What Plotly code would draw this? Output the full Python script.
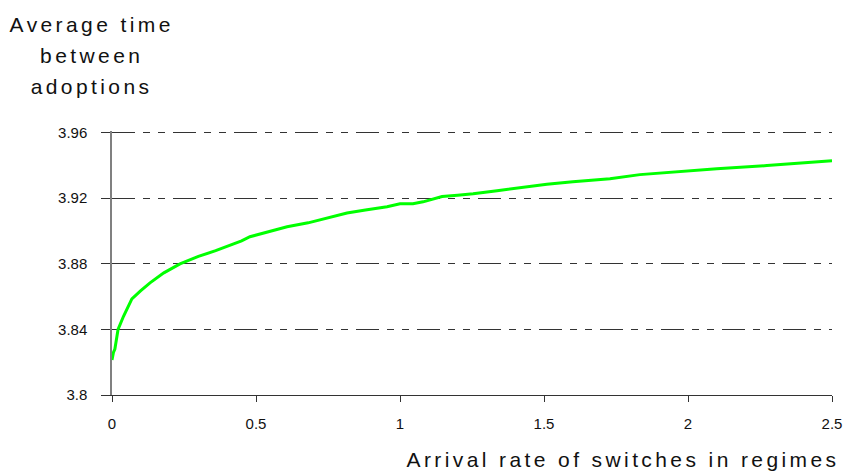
import plotly.graph_objects as go

arrival_rate = [0, 0.005, 0.01, 0.021, 0.04, 0.069, 0.10, 0.132, 0.18, 0.236, 0.30, 0.36,
                0.42, 0.45, 0.479, 0.54, 0.608, 0.681, 0.75, 0.816, 0.88, 0.955, 1.0,
                1.045, 1.08, 1.146, 1.2, 1.254, 1.337, 1.42, 1.51, 1.6, 1.729, 1.833,
                1.997, 2.1, 2.274, 2.4, 2.5]
avg_time = [3.8214, 3.826, 3.828, 3.840, 3.848, 3.8586, 3.8636, 3.8684, 3.8745, 3.880,
            3.8845, 3.888, 3.892, 3.894, 3.8965, 3.8995, 3.9026, 3.905, 3.908, 3.911,
            3.9128, 3.9148, 3.9166, 3.9166, 3.9178, 3.921, 3.9218, 3.9227, 3.9246,
            3.9265, 3.9285, 3.930, 3.9319, 3.9344, 3.9368, 3.938, 3.9399, 3.9415, 3.9429]

x_ticks = [0, 0.5, 1, 1.5, 2, 2.5]
x_tick_labels = ["0", "0.5", "1", "1.5", "2", "2.5"]
y_ticks = [3.8, 3.84, 3.88, 3.92, 3.96]
y_tick_labels = ["3.8", "3.84", "3.88", "3.92", "3.96"]

y_title_lines = ["Average time", "between", "adoptions"]
x_title = "Arrival rate of switches in regimes"

FONT = "Liberation Sans, Arial, sans-serif"

fig = go.Figure()
fig.add_trace(go.Scatter(x=arrival_rate, y=avg_time, mode="lines",
                         line=dict(color="#00FF00", width=3), showlegend=False,
                         hoverinfo="skip"))

fig.update_layout(
    width=847, height=475,
    margin=dict(l=112, r=15, t=131, b=80, autoexpand=False),
    paper_bgcolor="white", plot_bgcolor="white",
    font=dict(family=FONT, color="#111111", size=15),
    xaxis=dict(range=[0, 2.5], tickvals=x_ticks, ticktext=x_tick_labels,
               automargin=False,
               showgrid=False, zeroline=False, showline=True, linecolor="#333333",
               linewidth=1, ticks="outside", ticklen=6, tickcolor="#333333",
               ticklabelstandoff=9, tickfont=dict(size=15, family=FONT, color="#111")),
    yaxis=dict(range=[3.8, 3.961], tickvals=y_ticks, ticktext=y_tick_labels,
               automargin=False,
               showgrid=True, gridcolor="#333333", gridwidth=1,
               griddash="23px,8px,7px,8px,7px,8px",
               zeroline=False, showline=True, linecolor="#808080", linewidth=1.5,
               ticks="outside", ticklen=9, tickcolor="#333333",
               ticklabelstandoff=11, tickfont=dict(size=15, family=FONT, color="#111")),
)

title_y = [1.404, 1.286, 1.169]
for txt, yy in zip(y_title_lines, title_y):
    fig.add_annotation(text=txt, xref="paper", yref="paper", x=-0.029, y=yy,
                       xanchor="center", yanchor="middle", showarrow=False,
                       font=dict(size=21, family=FONT, color="#111"))

fig.add_annotation(text=x_title, xref="paper", yref="paper", x=0.71, y=-0.246,
                   xanchor="center", yanchor="middle", showarrow=False,
                   font=dict(size=21, family=FONT, color="#111"))

post = """
document.body.style.margin = '0';
document.body.style.overflow = 'hidden';
var s = document.createElement('style');
s.innerHTML = 'text.annotation-text { letter-spacing: 3.4px; }';
document.head.appendChild(s);
"""

fig.write_html("out.html", post_script=post, config={"displayModeBar": False})
